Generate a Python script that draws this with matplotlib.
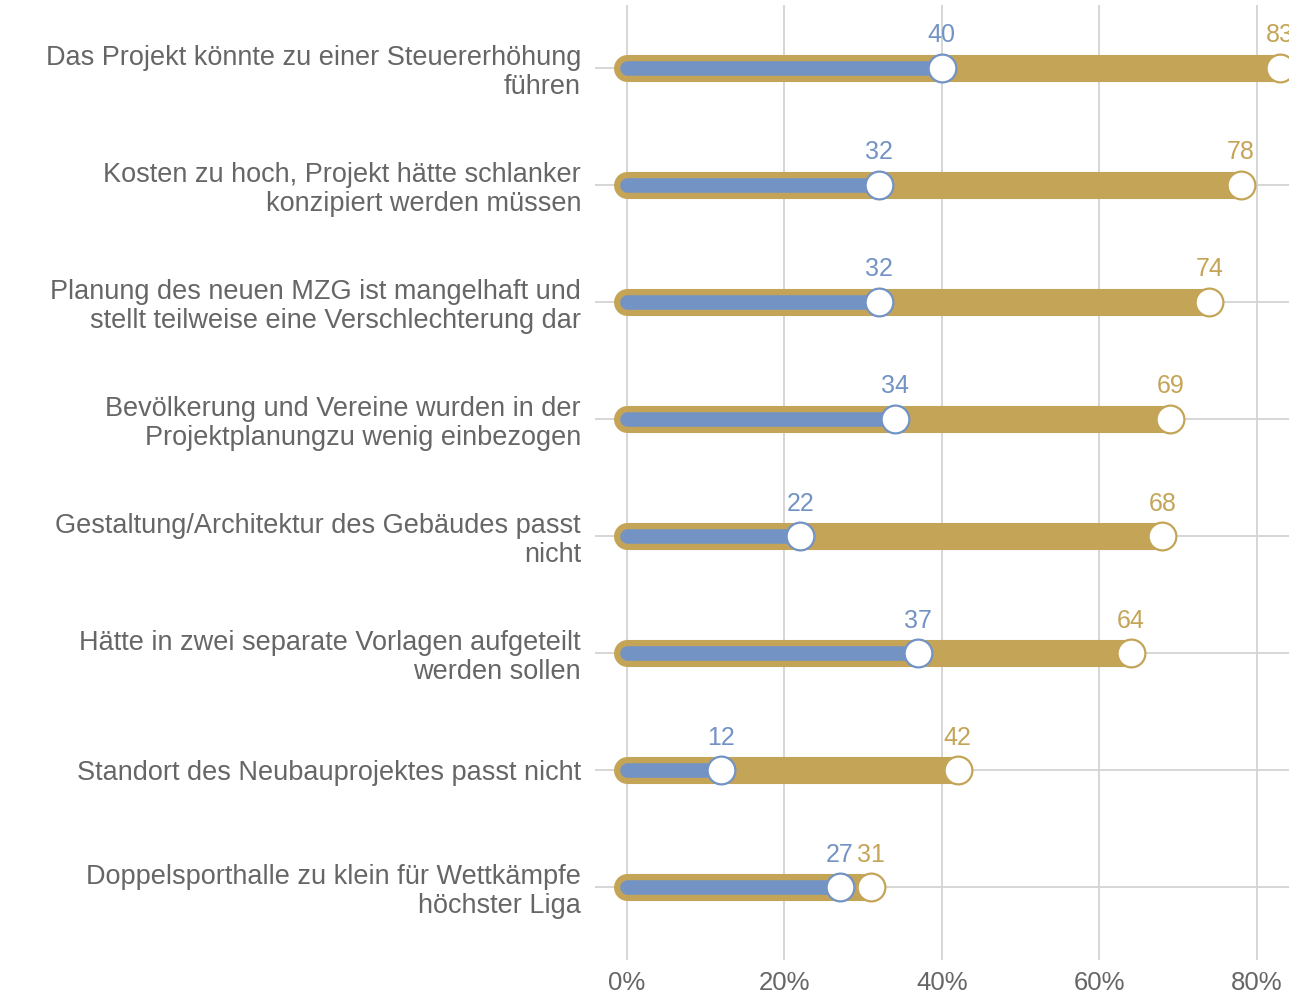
import matplotlib
matplotlib.use("Agg")
import matplotlib.pyplot as plt
from matplotlib.ticker import FuncFormatter

categories = [
    "Das Projekt könnte zu einer Steuererhöhung\nführen",
    "Kosten zu hoch, Projekt hätte schlanker\nkonzipiert werden müssen",
    "Planung des neuen MZG ist mangelhaft und\nstellt teilweise eine Verschlechterung dar",
    "Bevölkerung und Vereine wurden in der\nProjektplanungzu wenig einbezogen",
    "Gestaltung/Architektur des Gebäudes passt\nnicht",
    "Hätte in zwei separate Vorlagen aufgeteilt\nwerden sollen",
    "Standort des Neubauprojektes passt nicht",
    "Doppelsporthalle zu klein für Wettkämpfe\nhöchster Liga",
]
blue_values = [40, 32, 32, 34, 22, 37, 12, 27]
gold_values = [83, 78, 74, 69, 68, 64, 42, 31]
x_ticks = [0, 20, 40, 60, 80]

GOLD = "#C4A557"
BLUE = "#7293C4"
TEXT = "#666666"
GRID = "#D3D3D3"

plt.rcParams["font.family"] = ["Liberation Sans", "DejaVu Sans"]

fig = plt.figure(figsize=(12.89, 9.94), dpi=100)
ax = fig.add_axes([595 / 1289, 34 / 994, 1 - 595 / 1289, 955 / 994])

ys = list(range(len(categories)))
for y, b, g in zip(ys, blue_values, gold_values):
    ax.plot([0, g], [y, y], color=GOLD, lw=19.5, solid_capstyle="round", zorder=2)
    ax.plot([0, b], [y, y], color=BLUE, lw=10.5, solid_capstyle="round", zorder=3)
    ax.plot([g], [y], "o", ms=20, mfc="white", mec=GOLD, mew=1.6, zorder=4, clip_on=False)
    ax.plot([b], [y], "o", ms=20, mfc="white", mec=BLUE, mew=1.6, zorder=5, clip_on=False)
    ax.annotate(str(g), (g, y), xytext=(0, 15), textcoords="offset points",
                ha="center", va="bottom", color=GOLD, fontsize=18, annotation_clip=False)
    ax.annotate(str(b), (b, y), xytext=(0, 15), textcoords="offset points",
                ha="center", va="bottom", color=BLUE, fontsize=18, annotation_clip=False)

ax.set_xlim(-4.06, 84.1)
ax.set_ylim(7.62, -0.54)
ax.set_xticks(x_ticks)
ax.xaxis.set_major_formatter(FuncFormatter(lambda v, p: f"{int(v)}%"))
ax.set_yticks(ys)
ax.set_yticklabels(categories, ha="right", multialignment="right", linespacing=1.14)
ax.tick_params(axis="both", length=0, colors=TEXT)
ax.tick_params(axis="y", labelsize=19.5, pad=10)
ax.tick_params(axis="x", labelsize=18.5, pad=8)
ax.grid(True, color=GRID, lw=1.3)
ax.set_axisbelow(True)
for s in ax.spines.values():
    s.set_visible(False)

fig.savefig("out.png", dpi=100)
